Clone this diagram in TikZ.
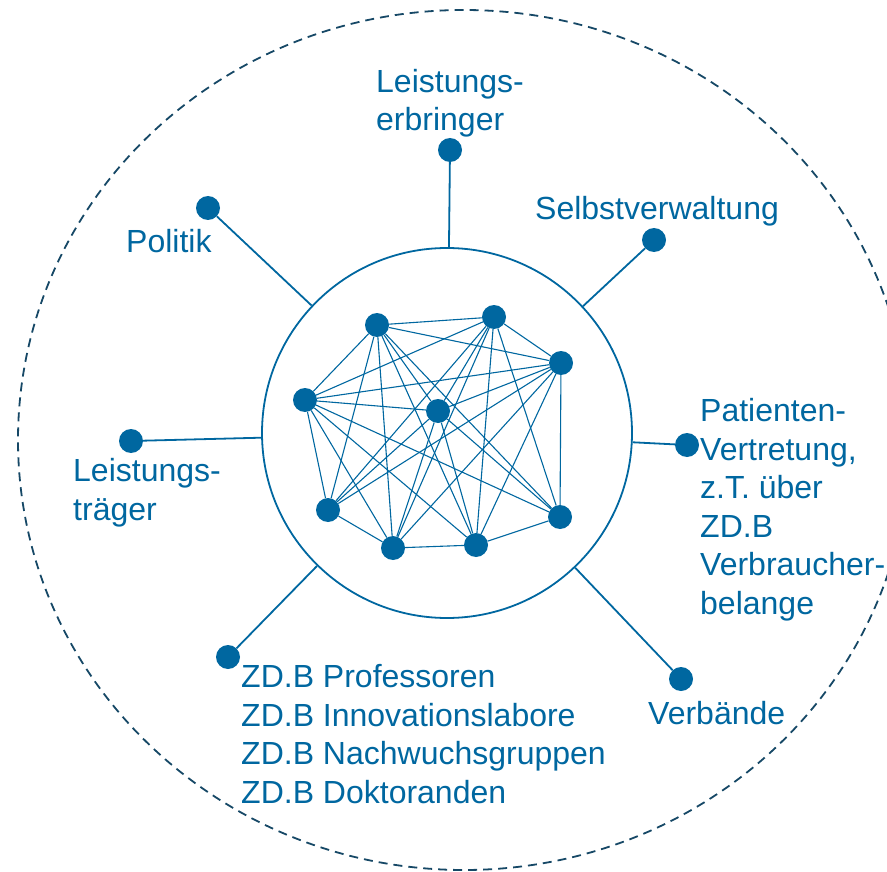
\documentclass[tikz,border=0pt]{standalone}
\usepackage{fontspec}
\setmainfont{Liberation Sans}
\usepackage{tikz}
\usetikzlibrary{positioning,calc}
\definecolor{netblue}{RGB}{0,103,160}
\definecolor{dashblue}{RGB}{22,72,102}

\begin{document}
\begin{tikzpicture}[x=1pt,y=-1pt,
    dot/.style={circle, fill=netblue, inner sep=0pt, minimum size=24pt},
    spoke/.style={draw=netblue, line width=1.8pt},
    link/.style={draw=netblue, line width=1.1pt},
    lbl/.style={anchor=base west, inner sep=0pt, text=netblue, align=left,
        font=\fontsize{32}{38.5}\selectfont}]
            \useasboundingbox (0,0) rectangle (887,872);

            % Outer boundary
            \draw[dashblue, line width=1.8pt, dash pattern=on 9pt off 6pt] (464,440) ellipse (446 and 430);

            % Hub
            \node[circle, draw=netblue, line width=1.8pt, minimum size=370pt, inner sep=0pt] (hub) at (447,433) {};

            % Network inside the hub
            \node[dot] (a) at (377,325) {};
            \node[dot] (b) at (494,317) {};
            \node[dot] (c) at (561,363) {};
            \node[dot] (d) at (305,400) {};
            \node[dot] (e) at (438,411) {};
            \node[dot] (f) at (328,510) {};
            \node[dot] (g) at (393,548) {};
            \node[dot] (h) at (476,545) {};
            \node[dot] (i) at (560,517) {};
            \foreach \u/\v in {a/b,a/c,a/d,a/e,a/f,a/g,a/h,a/i,
                               b/c,b/d,b/e,b/f,b/g,b/h,b/i,
                               c/d,c/e,c/f,c/g,c/h,c/i,
                               d/e,d/f,d/g,d/h,d/i,
                               e/f,e/g,e/h,e/i,
                               f/g,g/h,h/i}
                \draw[link] (\u) -- (\v);

            % Actors around the hub
            \node[dot] (erbr) at (450,150) {};
            \node[dot] (selbst) at (654,240) {};
            \node[dot] (pol) at (208,208) {};
            \node[dot] (traeger) at (131,441) {};
            \node[dot] (pat) at (687,445) {};
            \node[dot] (zdb) at (228,657) {};
            \node[dot] (verb) at (681,679) {};
            \foreach \n in {erbr,selbst,pol,traeger,pat,zdb,verb}
                \draw[spoke] (\n) -- (hub);

            % Labels (base = last line)
            \node[lbl] (erbrtxt) at (376,131) {Leistungs-\\erbringer};
            \node[lbl] (selbsttxt) at (535,220) {Selbstverwaltung};
            \node[lbl] (poltxt) at (126,252) {Politik};
            \node[lbl] (traegertxt) at (73,520) {Leistungs-\\träger};
            \node[lbl] (pattxt) at (700,614) {Patienten-\\Vertretung,\\z.T. über\\ZD.B\\Verbraucher-\\belange};
            \node[lbl] (zdbtxt) at (241,803) {ZD.B Professoren\\ZD.B Innovationslabore\\ZD.B Nachwuchsgruppen\\ZD.B Doktoranden};
            \node[lbl] (verbtxt) at (648,724) {Verbände};
        \end{tikzpicture}
\end{document}
